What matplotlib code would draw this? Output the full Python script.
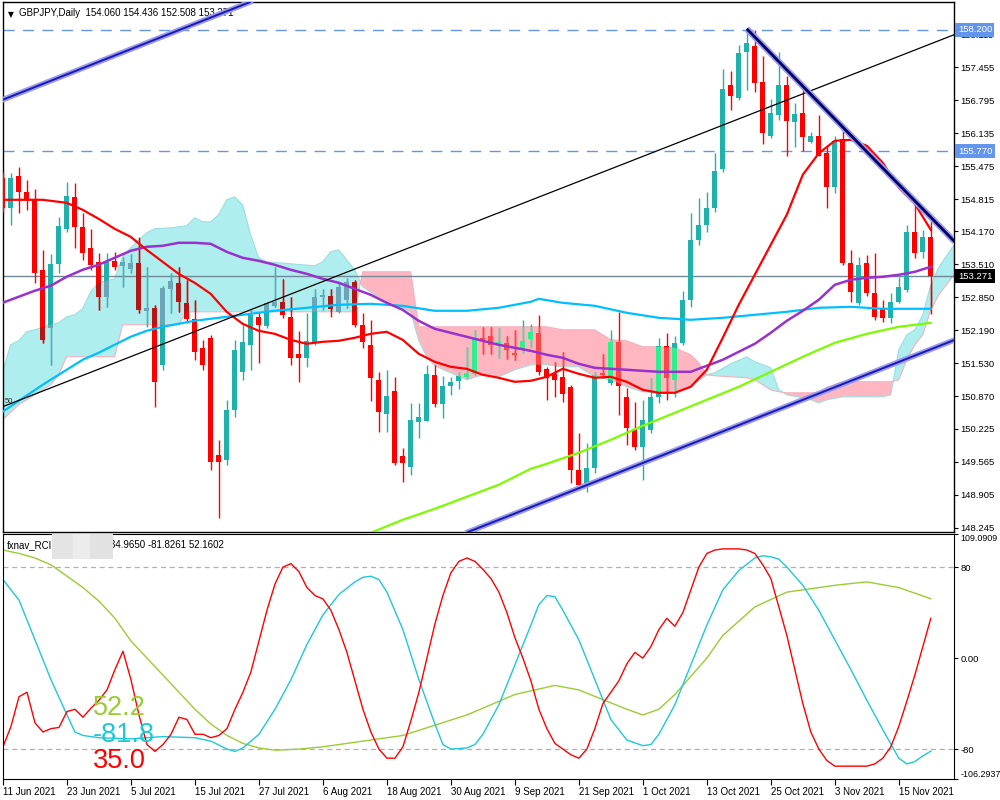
import numpy as np
import matplotlib
matplotlib.use("Agg")
import matplotlib.pyplot as plt
from matplotlib.path import Path

plt.rcParams["font.family"] = ["Liberation Sans", "DejaVu Sans"]

# ---- data (bar index 0 = 11 Jun 2021, daily bars) ----
date_idx = [0, 8, 16, 24, 32, 40, 48, 56, 64, 72, 80, 88, 96, 104, 112]
date_lbl = ["11 Jun 2021", "23 Jun 2021", "5 Jul 2021", "15 Jul 2021", "27 Jul 2021",
            "6 Aug 2021", "18 Aug 2021", "30 Aug 2021", "9 Sep 2021", "21 Sep 2021",
            "1 Oct 2021", "13 Oct 2021", "25 Oct 2021", "3 Nov 2021", "15 Nov 2021"]

opens = [155.23, 154.63, 155.28, 154.95, 154.80, 153.40, 152.23, 153.52, 154.22, 154.86,
         154.26, 153.83, 153.56, 152.86, 153.58, 153.48, 153.42, 153.53, 152.58, 152.63,
         151.50, 153.02, 153.13, 152.73, 152.41, 151.83, 152.04, 149.70, 149.60, 150.60,
         151.35, 151.90, 152.46, 152.28, 152.67, 152.76, 152.46, 151.71, 151.64, 151.96,
         152.86, 152.88, 152.55, 152.80, 153.16, 152.30, 151.90, 151.20, 150.51, 150.98,
         149.68, 149.46, 150.36, 150.38, 151.30, 150.71, 151.07, 151.18, 151.26, 151.31,
         152.04, 152.08, 151.90, 151.93, 151.73, 151.80, 152.01, 152.13, 151.42, 151.32,
         151.26, 151.06, 149.40, 149.10, 149.43, 151.33, 151.13, 151.96, 150.86, 150.22,
         149.85, 150.20, 150.86, 151.88, 151.20, 151.94, 152.80, 154.00, 154.30, 154.63,
         155.41, 157.10, 156.84, 157.76, 157.88, 157.16, 156.08, 156.50, 157.10, 156.36,
         156.53, 155.96, 156.08, 155.73, 155.06, 156.01, 153.53, 152.73, 153.53, 152.93,
         152.63, 152.43, 152.76, 153.00, 154.16, 153.76, 154.060]
highs = [155.35, 155.34, 155.46, 155.20, 155.01, 153.80, 153.72, 154.46, 155.16, 155.14,
         154.53, 154.22, 153.73, 153.73, 153.76, 153.66, 153.72, 154.06, 153.46, 152.70,
         153.08, 153.34, 153.46, 153.20, 152.80, 152.00, 152.10, 149.99, 150.80, 152.00,
         152.30, 152.60, 152.56, 152.76, 153.46, 153.21, 152.86, 152.18, 152.53, 153.01,
         153.01, 153.01, 153.16, 153.23, 153.20, 152.53, 152.40, 151.36, 151.40, 151.26,
         149.83, 150.73, 150.73, 151.50, 151.50, 151.27, 151.26, 151.36, 151.86, 152.20,
         152.26, 152.26, 152.23, 152.08, 152.20, 152.40, 152.31, 152.50, 151.45, 151.56,
         151.76, 151.10, 150.13, 149.93, 151.36, 151.72, 152.20, 152.56, 151.03, 150.75,
         150.79, 151.23, 152.03, 152.13, 152.08, 152.98, 154.54, 154.83, 154.96, 155.74,
         157.41, 157.38, 157.90, 158.22, 158.20, 157.68, 156.81, 157.76, 157.28, 156.73,
         157.13, 156.16, 156.50, 155.86, 156.08, 156.23, 153.80, 153.66, 153.70, 153.73,
         152.80, 152.93, 153.26, 154.30, 154.76, 154.20, 154.436]
lows = [154.55, 154.30, 154.53, 154.60, 153.13, 151.93, 151.50, 153.33, 154.16, 153.83,
        153.60, 153.40, 152.60, 152.66, 153.40, 153.06, 153.34, 152.53, 152.26, 150.66,
        151.40, 152.53, 152.56, 152.33, 151.60, 151.40, 149.40, 148.44, 149.50, 150.45,
        151.20, 151.40, 151.53, 152.23, 152.66, 152.43, 151.50, 151.15, 151.46, 151.90,
        152.60, 152.46, 152.53, 152.63, 152.25, 151.83, 150.78, 150.16, 150.16, 149.50,
        149.15, 149.30, 150.03, 150.38, 150.66, 150.44, 150.90, 151.02, 151.24, 151.30,
        151.71, 151.71, 151.63, 151.62, 151.60, 151.74, 151.85, 151.30, 150.80, 150.85,
        150.76, 149.13, 148.99, 148.96, 149.33, 151.23, 151.10, 150.50, 149.90, 149.80,
        149.20, 150.13, 150.73, 150.80, 150.86, 151.90, 152.66, 153.90, 154.16, 154.55,
        155.36, 156.60, 156.80, 157.00, 156.96, 155.92, 156.03, 156.40, 155.68, 155.86,
        155.78, 155.93, 155.68, 154.64, 154.93, 153.50, 152.76, 152.70, 152.87, 152.40,
        152.36, 152.34, 152.73, 152.96, 153.64, 153.64, 152.508]
closes = [154.63, 155.23, 154.95, 154.80, 153.33, 151.99, 153.52, 154.28, 154.88, 154.26,
          153.74, 153.50, 152.85, 153.56, 153.46, 153.56, 153.54, 152.60, 152.63, 151.16,
          153.04, 153.18, 152.76, 152.41, 151.75, 151.50, 149.56, 149.56, 150.60, 151.80,
          151.96, 152.50, 152.30, 152.73, 152.76, 152.50, 151.64, 151.64, 151.98, 152.86,
          152.90, 152.61, 153.06, 153.16, 152.30, 151.96, 151.24, 150.56, 150.88, 149.53,
          149.53, 150.39, 150.46, 151.31, 150.72, 151.07, 151.16, 151.28, 151.33, 152.03,
          151.98, 151.90, 151.96, 151.80, 151.70, 151.98, 152.16, 151.36, 151.23, 151.20,
          150.92, 149.40, 149.10, 149.43, 151.30, 151.30, 151.96, 151.08, 150.23, 149.85,
          150.39, 150.86, 151.88, 151.24, 151.94, 152.80, 154.00, 154.30, 154.63, 155.38,
          157.02, 156.88, 157.74, 157.94, 157.14, 156.13, 156.53, 157.10, 156.38, 156.52,
          156.06, 156.08, 155.68, 155.06, 155.98, 153.53, 152.96, 153.50, 152.93, 152.46,
          152.43, 152.76, 153.05, 154.16, 153.74, 154.06, 153.271]

# moving averages
ma_red_x = [0, 5, 8, 10, 12, 14, 16, 18, 20, 22, 24, 26, 28, 30, 32, 34, 36, 38, 40, 42,
            44, 46, 48, 50, 52, 54, 56, 58, 60, 62, 64, 66, 68, 70, 72, 74, 76, 78, 80, 82,
            84, 86, 88, 90, 92, 94, 96, 98, 100, 102, 104, 106, 108, 110, 112, 114, 116]
ma_red = [154.80, 154.80, 154.74, 154.60, 154.42, 154.22, 154.06, 153.80, 153.56, 153.32,
          153.14, 152.92, 152.56, 152.32, 152.18, 152.12, 152.00, 151.92, 151.96, 151.98,
          152.04, 152.12, 152.16, 152.00, 151.72, 151.56, 151.46, 151.42, 151.30, 151.24,
          151.16, 151.18, 151.26, 151.42, 151.32, 151.24, 151.26, 151.16, 151.00, 150.94,
          150.94, 151.06, 151.40, 152.04, 152.70, 153.30, 153.90, 154.50, 155.30, 155.73,
          155.98, 156.00, 155.88, 155.54, 155.04, 154.72, 154.20]
ma_purple_x = list(range(0, 117, 2))
ma_purple = [152.74, 152.86, 152.98, 153.08, 153.26, 153.40, 153.50, 153.64, 153.78, 153.86,
             153.88, 153.94, 153.94, 153.92, 153.76, 153.64, 153.58, 153.50, 153.40, 153.32,
             153.22, 153.14, 153.02, 152.90, 152.74, 152.60, 152.38, 152.22, 152.14, 152.06,
             151.98, 151.90, 151.84, 151.78, 151.70, 151.64, 151.52, 151.44, 151.42, 151.40,
             151.38, 151.36, 151.36, 151.36, 151.48, 151.60, 151.76, 151.92, 152.14, 152.38,
             152.58, 152.80, 153.10, 153.20, 153.24, 153.26, 153.30, 153.36, 153.46]
ma_blue_x = [0, 5, 10, 12, 14, 16, 18, 20, 22, 24, 26, 28, 30, 34, 38, 42, 46, 50, 54, 58,
             62, 66, 67, 70, 74, 78, 82, 86, 90, 94, 98, 102, 106, 110, 116]
ma_blue = [150.56, 151.10, 151.60, 151.74, 151.90, 152.06, 152.18, 152.26, 152.32, 152.38,
           152.42, 152.46, 152.50, 152.58, 152.64, 152.70, 152.72, 152.68, 152.58, 152.58,
           152.64, 152.76, 152.82, 152.74, 152.68, 152.54, 152.44, 152.40, 152.44, 152.50,
           152.56, 152.64, 152.66, 152.62, 152.62]
ma_green_x = [46, 50, 54, 57, 62, 66, 68, 72, 76, 80, 84, 88, 92, 96, 100, 104, 108, 112, 116]
ma_green = [148.14, 148.40, 148.62, 148.80, 149.10, 149.42, 149.52, 149.74, 150.00, 150.28,
            150.54, 150.80, 151.06, 151.36, 151.66, 151.94, 152.12, 152.26, 152.34]

# ichimoku cloud (span A / span B, shifted)
cloud_x = [0, 1, 2, 3, 4, 6, 7, 8, 9, 10, 11, 12, 14, 15, 16, 18, 19, 21, 22, 23, 24, 25,
           26, 27, 28, 29, 30, 31, 32, 33, 36, 39, 40, 41, 42, 43, 44, 45, 48, 50, 51, 52,
           53, 54, 58, 60, 62, 64, 66, 68, 70, 72, 74, 76, 78, 80, 82, 84, 86, 87, 88, 89,
           91, 93, 94, 96, 97, 98, 100, 101, 102, 103, 105, 110, 111, 112, 113, 114, 115,
           116, 117, 118.9]
span_a = [151.36, 151.90, 151.98, 152.16, 152.20, 152.30, 152.34, 152.46, 152.50, 152.62,
          152.96, 153.14, 153.22, 153.66, 153.84, 154.14, 154.22, 154.24, 154.26, 154.28,
          154.44, 154.36, 154.36, 154.50, 154.80, 154.86, 154.70, 154.10, 153.64, 153.56,
          153.52, 153.48, 153.56, 153.76, 153.80, 153.60, 153.40, 153.06, 152.74, 152.64,
          152.56, 151.99, 151.66, 151.48, 151.20, 151.30, 151.26, 151.40, 151.50, 151.50,
          151.46, 151.46, 151.26, 151.20, 151.06, 150.96, 150.94, 150.94, 151.06, 151.18,
          151.30, 151.34, 151.52, 151.66, 151.56, 151.44, 151.00, 150.90, 150.84, 150.80,
          150.74, 150.80, 150.86, 150.86, 150.90, 151.80, 152.10, 152.20, 152.50, 153.10,
          153.45, 153.90]
span_b = [150.40, 150.55, 150.70, 150.80, 150.90, 151.10, 151.30, 151.66, 151.66, 151.66,
          151.66, 151.66, 151.66, 152.30, 152.30, 152.30, 152.30, 152.30, 152.30, 152.56,
          152.56, 152.56, 152.56, 152.56, 152.56, 152.56, 152.56, 152.56, 152.56, 152.56,
          152.56, 152.56, 152.56, 152.56, 152.56, 152.56, 152.56, 153.36, 153.36, 153.36,
          153.36, 152.26, 152.26, 152.26, 152.26, 152.26, 152.26, 152.26, 152.26, 152.26,
          152.20, 152.20, 152.20, 152.00, 151.98, 151.86, 151.86, 151.84, 151.70, 151.54,
          151.30, 151.28, 151.26, 151.24, 151.20, 151.00, 150.96, 150.94, 150.94, 150.94,
          150.94, 151.05, 151.16, 151.16, 151.16, 151.20, 151.60, 151.90, 152.10, 152.60,
          152.90, 153.30]

# trend lines: (bar index, price) anchors
chan_upper = [(0, 156.80), (31, 158.76)]
chan_mid = [(15, 151.60), (85, 155.98)]   # 50% line of the channel
chan_lower = [(72, 149.03), (116, 151.81)]
down_line = [(93, 158.22), (119, 153.96)]
h_levels = [158.200, 155.770]
last_price = 153.271

y_ticks = [158.115, 157.455, 156.795, 156.135, 155.475, 154.815, 154.170, 153.510,
           152.850, 152.190, 151.530, 150.870, 150.225, 149.565, 148.905, 148.245]

# RCI (short / mid / long)
rci_short = [-78, -60, -34, -30, -57, -65, -62, -61, -47, -45, -52, -44, -37, -28, -10, 6,
             -19, -50, -76, -82, -76, -67, -52, -54, -67, -67, -70, -68, -62, -45, -30, -12,
             15, 42, 65, 80, 83, 76, 62, 55, 52, 42, 25, 5, -20, -45, -65, -80, -88, -88,
             -78, -55, -30, 0, 30, 55, 75, 85, 88, 85, 78, 70, 58, 40, 18, 0, -20, -45, -62,
             -75, -80, -85, -88, -80, -62, -40, -30, -20, -5, 5, 0, 10, 25, 35, 28, 40, 60,
             80, 92, 95, 96, 96, 96, 95, 92, 82, 70, 45, 20, -10, -40, -65, -80, -90, -95,
             -95, -95, -95, -95, -93, -88, -78, -60, -38, -15, 10, 34.965]
rci_mid_x = [0, 2, 4, 6, 8, 9, 10, 12, 16, 20, 24, 26, 28, 29, 30, 32, 34, 36, 38, 40, 42,
             44, 45, 46, 47, 48, 50, 52, 54, 55, 56, 58, 59, 60, 62, 64, 66, 67, 68, 69, 70,
             72, 74, 76, 78, 80, 81, 82, 84, 86, 88, 90, 92, 94, 95, 96, 97, 98, 100, 102,
             104, 106, 108, 110, 112, 113, 114, 115, 116]
rci_mid = [69, 51, 16, -19, -50, -65, -68, -70, -71, -69, -70, -73, -80, -82, -79, -67, -45,
           -19, 12, 38, 56, 67, 71, 72, 69, 58, 25, -19, -58, -76, -80, -79, -76, -67, -41,
           -6, 29, 47, 55, 54, 42, 16, -19, -54, -72, -77, -76, -67, -41, -6, 29, 60, 77, 88,
           90, 89, 87, 80, 64, 42, 16, -10, -37, -63, -88, -93, -91, -86, -81.826]
rci_long_x = [0, 2, 4, 6, 8, 10, 12, 14, 16, 18, 20, 22, 24, 26, 28, 30, 32, 34, 37, 40,
              44, 50, 58, 64, 69, 72, 78, 80, 82, 84, 88, 90, 94, 98, 104, 108, 112, 116]
rci_long = [95, 92, 88, 82, 72, 62, 50, 35, 15, 0, -15, -30, -45, -58, -68, -75, -79, -81,
            -80, -78, -74, -68, -50, -32, -24, -28, -45, -50, -45, -32, 0, 20, 45, 58, 64,
            67, 62, 52.160]

# ---- figure ----
fig = plt.figure(figsize=(10, 8), dpi=100)
fig.patch.set_facecolor("white")
ax = fig.add_axes([0.003, 0.335, 0.951, 0.6625])
ax2 = fig.add_axes([0.003, 0.02625, 0.951, 0.30625])

x_lim = (0.05, 118.9)
price_lim = (148.156, 158.756)

o = np.array(opens); h = np.array(highs); l = np.array(lows); c = np.array(closes)
idx = np.arange(len(o))

# cloud
ca = np.array(span_a); cb = np.array(span_b)
cloud_up = ax.fill_between(cloud_x, ca, cb, where=ca >= cb, interpolate=True,
                           color="#AFEEEE", lw=0, zorder=1)
cloud_dn = ax.fill_between(cloud_x, ca, cb, where=ca < cb, interpolate=True,
                           color="#FFB6C1", lw=0, zorder=1)
ax.plot(cloud_x, span_a, color="#9fdede", lw=0.8, zorder=1.2)
ax.plot(cloud_x, span_b, color="#f4b0bc", lw=0.8, zorder=1.2)

# horizontal lines
for lv in h_levels:
    ax.axhline(lv, color="#6495ED", lw=1, ls=(0, (8, 6)), zorder=2)
ax.axhline(last_price, color="#6f8a95", lw=1, zorder=2)

# candles, with the muted tint the terminal gives where they sit in the cloud
up = c >= o
body = np.maximum(np.abs(c - o), 0.025)


def draw_candles(up_col, dn_col, clip=None, z=3):
    col = np.where(up, up_col, dn_col)
    w = ax.vlines(idx, l, h, colors=col, lw=1, zorder=z)
    b = ax.bar(idx, body, 0.62, bottom=np.minimum(o, c), color=col, lw=0, zorder=z)
    if clip is not None:
        w.set_clip_path(clip, ax.transData)
        for r in b:
            r.set_clip_path(clip, ax.transData)


draw_candles("#20B2AA", "#FF0000")
for coll, ucol, dcol in ((cloud_up, "#6aa6b8", "#b51515"), (cloud_dn, "#2ef08c", "#ff4646")):
    paths = coll.get_paths()
    if paths:
        draw_candles(ucol, dcol, clip=Path.make_compound_path(*paths), z=3.2)

# moving averages
ax.plot(ma_green_x, ma_green, color="#7CFC00", lw=1.6, zorder=4)
ax.plot(ma_blue_x, ma_blue, color="#00BFFF", lw=1.6, zorder=4)
ax.plot(ma_purple_x, ma_purple, color="#9932CC", lw=1.8, zorder=4)
ax.plot(ma_red_x, ma_red, color="#FF0000", lw=1.6, zorder=4)

# trend lines
for pts in (chan_upper, chan_lower):
    ax.axline(pts[0], pts[1], color="#9a9af0", lw=4, zorder=5)
    ax.axline(pts[0], pts[1], color="#1a1ab0", lw=1.4, zorder=5.1)
ax.axline(chan_mid[0], chan_mid[1], color="black", lw=0.9, zorder=5)
ax.text(0.3, 150.70, "50", fontsize=5.5, color="#303030", va="bottom", ha="left", zorder=6)
dx = [p[0] for p in down_line]; dy = [p[1] for p in down_line]
ax.plot(dx, dy, color="#9a9af0", lw=4.5, zorder=5, solid_capstyle="butt")
ax.plot(dx, dy, color="#000060", lw=2, zorder=5.1, solid_capstyle="butt")

ax.set_xlim(*x_lim)
ax.set_ylim(*price_lim)
ax.set_xticks([])
ax.yaxis.tick_right()
ax.set_yticks(y_ticks)
ax.set_yticklabels([f"{v:.3f}" for v in y_ticks])
ax.tick_params(axis="y", direction="out", length=3, width=0.8, pad=1.5, labelsize=6.8)
for s in ax.spines.values():
    s.set_linewidth(1)

# price tags on the right scale
tagkw = dict(transform=ax.get_yaxis_transform(), fontsize=6.8, va="center", ha="left",
             clip_on=False, zorder=10)
for lv in h_levels:
    ax.text(1.004, lv, f"{lv:.3f}", color="white",
            bbox=dict(boxstyle="square,pad=0.25", fc="#6495ED", ec="none"), **tagkw)
ax.text(1.004, last_price, f"{last_price:.3f}", color="white",
        bbox=dict(boxstyle="square,pad=0.25", fc="black", ec="none"), **tagkw)

ax.text(0.005, 0.985, "\u25BC", transform=ax.transAxes, fontsize=5.5, va="top", ha="left",
        family="DejaVu Sans")
ax.text(0.017, 0.988, "GBPJPY,Daily  154.060 154.436 152.508 153.271",
        transform=ax.transAxes, fontsize=7, va="top", ha="left")

# ---- RCI panel ----
ax2.axhline(80, color="#b0b0b0", lw=0.9, ls=(0, (4, 3)))
ax2.axhline(-80, color="#b0b0b0", lw=0.9, ls=(0, (4, 3)))
ax2.plot(rci_long_x, rci_long, color="#9ACD32", lw=1)
ax2.plot(rci_mid_x, rci_mid, color="#1EC8D8", lw=1)
ax2.plot(idx, rci_short, color="#FF0000", lw=1)
ax2.set_xlim(*x_lim)
ax2.set_ylim(-106.2937, 109.0909)
ax2.yaxis.tick_right()
rci_ticks = [109.0909, 80, 0, -80, -106.2937]
ax2.set_yticks(rci_ticks)
ax2.set_yticklabels(["109.0909", "80", "0.00", "-80", "-106.2937"])
ax2.tick_params(axis="y", direction="out", length=3, width=0.8, pad=1.5, labelsize=6.8)
ylabs = ax2.get_yticklabels()
ylabs[0].set_va("top")
ylabs[0].set_fontsize(6.4)
ylabs[-1].set_va("bottom")
ylabs[-1].set_fontsize(6.4)
ax2.set_xticks(date_idx)
ax2.set_xticklabels(date_lbl)
ax2.tick_params(axis="x", direction="out", length=4, width=0.8, pad=2, labelsize=7)
for lab in ax2.get_xticklabels():
    lab.set_ha("left")

ax2.text(0.004, 0.975, "fxnav_RCI", transform=ax2.transAxes, fontsize=7, va="top")
ax2.text(0.113, 0.975, "34.9650 -81.8261 52.1602", transform=ax2.transAxes,
         fontsize=7, va="top")
for x0, w, fc in ((0.052, 0.022, "#e4e4e4"), (0.074, 0.018, "#ececec"), (0.092, 0.024, "#e2e2e2")):
    ax2.add_patch(plt.Rectangle((x0, 0.9), w, 0.1, transform=ax2.transAxes,
                                fc=fc, ec="none", zorder=6, clip_on=False))

big = dict(fontsize=19.5, family="Liberation Sans", ha="left", va="baseline")
fig.text(0.093, 1 - 715 / 800, "52.2", color="#9ACD32", **big)
fig.text(0.093, 1 - 742 / 800, "-81.8", color="#1EC8D8", **big)
fig.text(0.093, 1 - 768 / 800, "35.0", color="#FF0000", **big)

fig.savefig("out.png", dpi=100)
